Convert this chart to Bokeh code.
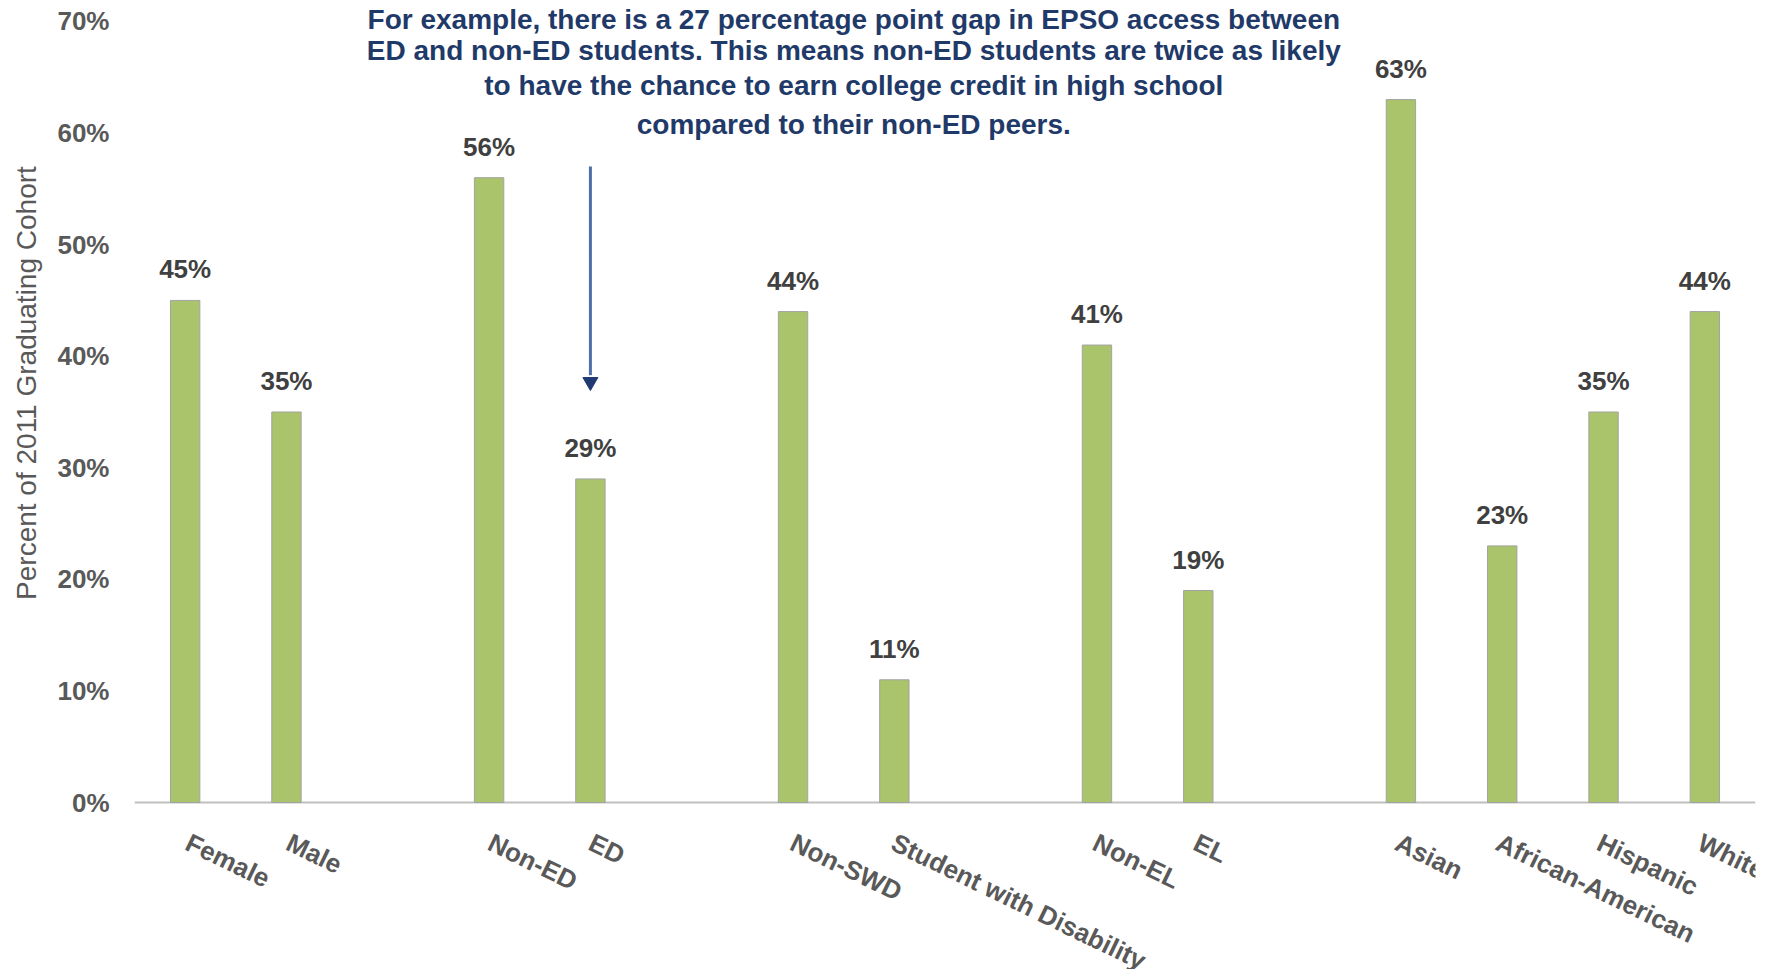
from bokeh.plotting import figure
from bokeh.layouts import column
from bokeh.models import FactorRange, Range1d, FixedTicker, ColumnDataSource, Label
from bokeh.core.properties import value
from bokeh.embed import file_html
from bokeh.resources import INLINE

# ---- data ----
slots = ["Female", "Male", " ", "Non-ED", "ED", "  ", "Non-SWD", "Student with Disability", "   ",
         "Non-EL", "EL", "    ", "Asian", "African-American", "Hispanic", "White"]
categories = ["Female", "Male", "Non-ED", "ED", "Non-SWD", "Student with Disability",
              "Non-EL", "EL", "Asian", "African-American", "Hispanic", "White"]
values = [45, 35, 56, 29, 44, 11, 41, 19, 63, 23, 35, 44]
value_labels = ["45%", "35%", "56%", "29%", "44%", "11%", "41%", "19%", "63%", "23%", "35%", "44%"]
y_ticks = [0, 10, 20, 30, 40, 50, 60, 70]
y_tick_labels = ["0%", "10%", "20%", "30%", "40%", "50%", "60%", "70%"]
y_title = "Percent of 2011 Graduating Cohort"
baseline = [0]
note_lines = [
    "For example, there is a 27 percentage point gap in EPSO access between",
    "ED and non-ED students. This means non-ED students are twice as likely",
    "to have the chance to earn college credit in high school",
    "compared to their non-ED peers.",
]
note_y = [70.2, 67.4, 64.3, 60.75]
arrow_cat = ["ED"]
arrow_from = [57.0]
arrow_to = [38.3]
arrow_head = [37.7]

FONT = "Liberation Sans"
W = 1763
LEFT = 134
RIGHT = 8

# ---- main chart ----
p = figure(width=W, height=822, x_range=FactorRange(factors=slots, range_padding=0, factor_padding=0),
           y_range=Range1d(-0.179, 71.88), output_backend="svg", toolbar_location=None,
           x_axis_location=None,
           min_border_top=0, min_border_left=LEFT, min_border_right=RIGHT, min_border_bottom=18)
p.outline_line_color = None
p.grid.visible = False
p.background_fill_color = "white"
p.border_fill_color = "white"

# grey base line
p.hspan(y=baseline, line_color="#BFBFBF", line_width=2)

src = ColumnDataSource(dict(cat=categories, val=values, lab=value_labels))
p.vbar(x="cat", top="val", width=0.29, source=src, fill_color="#A9C46B",
       line_color="#A3A3A3", line_width=1)
p.text(x="cat", y="val", text="lab", source=src, text_align="center", text_baseline="middle",
       y_offset=-31, text_font=value(FONT), text_font_size="26px", text_font_style="bold",
       text_color="#404040")

# arrow
p.segment(x0=arrow_cat, y0=arrow_from, x1=arrow_cat, y1=arrow_to, line_color="#4F6FA8", line_width=3)
p.scatter(x=arrow_cat, y=arrow_head, marker="inverted_triangle", size=15,
          fill_color="#1F3A73", line_color="#1F3A73")

# annotation text (synthetic x coordinate of the categorical range)
for line, yy in zip(note_lines, note_y):
    p.add_layout(Label(x=7.10, y=yy, text=line, text_align="center", text_baseline="middle",
                       text_font=FONT, text_font_size="28px", text_font_style="bold",
                       text_color="#1F3A68"))

# y axis
ya = p.yaxis[0]
ya.ticker = FixedTicker(ticks=y_ticks)
ya.major_label_overrides = {t: l for t, l in zip(y_ticks, y_tick_labels)}
ya.axis_line_color = None
ya.major_tick_line_color = None
ya.minor_tick_line_color = None
ya.major_tick_out = 0
ya.major_tick_in = 0
ya.major_label_standoff = 25
ya.major_label_text_font = FONT
ya.major_label_text_font_size = "26px"
ya.major_label_text_font_style = "bold"
ya.major_label_text_color = "#595959"
ya.axis_label = "\u00a0" * 5 + y_title
ya.axis_label_standoff = 12
ya.axis_label_text_font = FONT
ya.axis_label_text_font_size = "28px"
ya.axis_label_text_font_style = "normal"
ya.axis_label_text_color = "#595959"

# ---- strip under the chart holding the slanted category labels ----
slot_w = (W - LEFT - RIGHT) / len(slots)
q = figure(width=W, height=147, x_range=Range1d(0, len(slots) + RIGHT / slot_w), y_range=Range1d(-147, 0),
           output_backend="svg", toolbar_location=None, x_axis_location=None, y_axis_location=None,
           min_border_top=0, min_border_bottom=0, min_border_left=LEFT, min_border_right=0)
q.outline_line_color = None
q.grid.visible = False
q.background_fill_color = "white"
q.border_fill_color = "white"
lab_src = ColumnDataSource(dict(x=[slots.index(c) + 0.5 for c in categories], y=[0] * len(categories),
                                text=categories))
q.text(x="x", y="y", text="text", source=lab_src, angle=-0.45, text_align="left", text_baseline="top",
       x_offset=9, y_offset=5, text_font=value(FONT), text_font_size="26px", text_font_style="bold",
       text_color="#595959")

open("out.html", "w").write(file_html(column(p, q, spacing=0), INLINE))
